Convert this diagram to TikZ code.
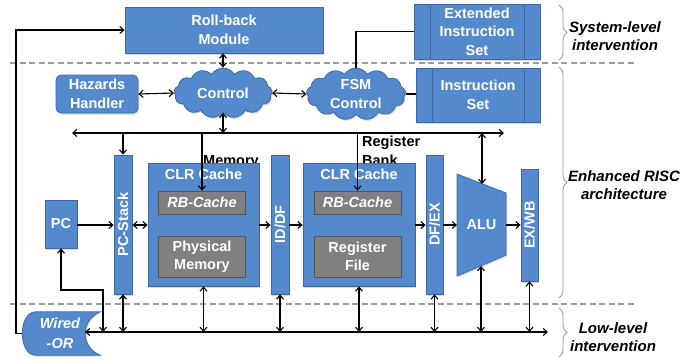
\documentclass[tikz,border=0pt]{standalone}
\usepackage{fontspec}
\setmainfont{Liberation Sans}
\usetikzlibrary{shapes.symbols,shadows,arrows.meta,decorations.pathreplacing,calc}
\definecolor{bfill}{RGB}{84,137,204}
\definecolor{bedge}{RGB}{62,104,165}
\definecolor{gfill}{RGB}{128,128,128}
\definecolor{gedge}{RGB}{85,85,85}
\definecolor{dashc}{RGB}{155,155,155}
\begin{document}
\begin{tikzpicture}[x=1pt,y=-1pt,
  font=\fontsize{14.5}{18.5}\selectfont\bfseries,
  shd/.style={drop shadow={shadow xshift=1.2pt,shadow yshift=-1.5pt,opacity=0.3}},
  blk/.style={draw=bedge,line width=0.8pt,fill=bfill,text=white,align=center,inner sep=0pt,shd},
  gblk/.style={draw=gedge,line width=0.8pt,fill=gfill,text=white,align=center,inner sep=0pt,shd},
  pp/.style={blk,path picture={\draw[bedge,line width=0.8pt]
      ([xshift=16pt]path picture bounding box.north west) -- ([xshift=16pt]path picture bounding box.south west)
      ([xshift=-16pt]path picture bounding box.north east) -- ([xshift=-16pt]path picture bounding box.south east);}},
  cloudn/.style={cloud,cloud puffs=13,cloud puff arc=115,aspect=2,blk},
  conn/.style={line width=1.1pt,black},
  arr/.style={conn,-{Straight Barb[length=4pt,width=7pt]}},
  darr/.style={conn,{Straight Barb[length=4pt,width=7pt]}-{Straight Barb[length=4pt,width=7pt]}},
  sep/.style={dashc,line width=1.6pt,dash pattern=on 6pt off 3.5pt},
  brc/.style={decorate,decoration={brace,amplitude=8pt},draw=dashc,line width=0.9pt},
  lvl/.style={font=\fontsize{15}{18.5}\selectfont\bfseries\itshape,align=center,inner sep=0pt},
  txt/.style={inner sep=0pt}
]
\useasboundingbox (0,0) rectangle (699,360);

% separators
\draw[sep] (10,63) -- (637,63);
\draw[sep] (10,304) -- (637,304);

% labels under boxes
\node[txt,anchor=base west] (meml) at (203,165) {Memory};
\node[txt,anchor=north west,align=left] (regl) at (362,136) {Register\\Bank};

% system level
\node[blk,minimum width=198pt,minimum height=46pt] (rb) at (224,30) {Roll-back\\Module};
\node[pp,minimum width=126pt,minimum height=55pt] (eis) at (477,31.5) {Extended\\Instruction\\Set};

% control row
\node[blk,rounded corners=5pt,minimum width=82pt,minimum height=38pt] (haz) at (97,94) {Hazards\\Handler};
\node[cloudn,minimum width=98pt,minimum height=50pt] (ctrl) at (223,93) {Control};
\node[cloudn,minimum width=99pt,minimum height=52pt] (fsm) at (356,94) {FSM\\Control};
\node[pp,minimum width=124pt,minimum height=54pt] (isa) at (478,95) {Instruction\\Set};

% datapath
\node[blk,minimum width=32pt,minimum height=48pt] (pc) at (61,224) {PC};
\node[blk,minimum width=18pt,minimum height=139pt] (pcs) at (123,224.5) {};
\node[txt,text=white,rotate=90] (pcst) at (pcs.center) {PC-Stack};

\node[blk,minimum width=111pt,minimum height=123pt] (clr1) at (203.5,224.5) {};
\node[txt,text=white,anchor=north] (clr1t) at ([yshift=-6pt]clr1.north) {CLR Cache};
\node[gblk,minimum width=87pt,minimum height=23pt,font=\fontsize{14.5}{18.5}\selectfont\bfseries\itshape] (rbc1) at (202,202.5) {RB-Cache};
\node[gblk,minimum width=87pt,minimum height=41pt] (pm) at (202,256.5) {Physical\\Memory};

\node[blk,minimum width=18pt,minimum height=139pt] (iddf) at (280,224.5) {};
\node[txt,text=white,rotate=90] (iddft) at (iddf.center) {ID/DF};

\node[blk,minimum width=112pt,minimum height=123pt] (clr2) at (359,224.5) {};
\node[txt,text=white,anchor=north] (clr2t) at ([yshift=-6pt]clr2.north) {CLR Cache};
\node[gblk,minimum width=87pt,minimum height=23pt,font=\fontsize{14.5}{18.5}\selectfont\bfseries\itshape] (rbc2) at (357.5,202.5) {RB-Cache};
\node[gblk,minimum width=87pt,minimum height=41pt] (rf) at (357.5,256.5) {Register\\File};

\node[blk,minimum width=17pt,minimum height=139pt] (dfex) at (434.5,224.5) {};
\node[txt,text=white,rotate=90] (dfext) at (dfex.center) {DF/EX};

\coordinate (a1) at (457,174);
\coordinate (a2) at (506,193);
\coordinate (a3) at (506,255);
\coordinate (a4) at (457,276);
\path[draw=bedge,line width=0.8pt,fill=bfill,shd] (a1) -- (a2) -- (a3) -- (a4) -- cycle;
\node[txt,text=white] (alu) at (481.5,225) {ALU};
\coordinate (alutop) at (482,184);
\coordinate (alubot) at (481,266);

\node[blk,minimum width=17pt,minimum height=112pt] (exwb) at (529.5,225) {};
\node[txt,text=white,rotate=90] (exwbt) at (exwb.center) {EX/WB};

% wired-or
\node[txt,minimum width=78pt,minimum height=43pt] (wor) at (61,333.5) {};
\path[draw=bedge,line width=0.8pt,fill=bfill,shd]
  (wor.north east) .. controls ($(wor.north east)+(-20,8)$) and ($(wor.south east)+(-20,-8)$) .. (wor.south east)
  -- ($(wor.south west)+(14,0)$) .. controls ($(wor.south west)+(-4,0)$) and ($(wor.north west)+(-4,0)$) .. ($(wor.north west)+(14,0)$) -- cycle;
\node[txt,text=white,font=\fontsize{14.5}{20}\selectfont\bfseries\itshape,align=center] (wort) at (60,333) {Wired\\-OR};

% coordinates
\coordinate (mid) at (0,225);
\coordinate (busL) at (72,133);
\coordinate (busR) at (504,133);
\coordinate (botL) at (85,332);
\coordinate (botR) at (548,332);
\coordinate (lp) at (16,0);
\coordinate (pcj) at (103,290);

% top connections
\draw[darr] (rb.south -| ctrl.north) -- (ctrl.north);
\draw[darr] (haz.east) -- (ctrl.west);
\draw[darr] (ctrl.east) -- (fsm.west);
\draw[conn] (fsm.east) -- (fsm.east -| isa.west);
\draw[conn] (fsm.north) |- (eis.west);
\draw[arr] (wor.west) -- (wor.west -| lp) |- (rb.west);

% top bus
\draw[darr] (busL) -- (busR);
\draw[darr] (ctrl.south) -- (ctrl.south |- busL);
\draw[arr] (pcs.north |- busL) -- (pcs.north);
\draw[arr] (rbc1.north |- busL) -- (rbc1.north);
\draw[arr] (rbc2.north |- busL) -- (rbc2.north);
\draw[darr] (alutop |- busL) -- (alutop);

% pipeline
\draw[arr] (pc.east |- mid) -- (pcs.west |- mid);
\draw[darr] (pcs.east |- mid) -- (clr1.west |- mid);
\draw[arr] (clr1.east |- mid) -- (iddf.west |- mid);
\draw[arr] (iddf.east |- mid) -- (clr2.west |- mid);
\draw[arr] (clr2.east |- mid) -- (dfex.west |- mid);
\draw[arr] (dfex.east |- mid) -- (a1 |- mid);
\draw[arr] (a2 |- mid) -- (exwb.west |- mid);

% bottom bus
\draw[darr] (botL) -- (botR);
\draw[darr] (pc.south) |- (pcj) -- (pcj |- botL);
\draw[darr] (pcs.south) -- (pcs.south |- botL);
\draw[darr] (clr1.south) -- (clr1.south |- botL);
\draw[darr] (iddf.south) -- (iddf.south |- botL);
\draw[darr] (clr2.south) -- (clr2.south |- botL);
\draw[darr] (dfex.south) -- (dfex.south |- botL);
\draw[darr] (alubot) -- (alubot |- botL);
\draw[darr] (exwb.south) -- (exwb.south |- botL);

% braces and levels
\draw[brc] (559,5) -- (559,60);
\node[lvl] (l1) at (615,36) {System-level\\intervention};
\draw[brc] (559,67) -- (559,298);
\node[lvl] (l2) at (624,185) {Enhanced RISC\\architecture};
\draw[brc] (559,308) -- (559,357);
\node[lvl] (l3) at (613,337) {Low-level\\intervention};
\end{tikzpicture}
\end{document}
